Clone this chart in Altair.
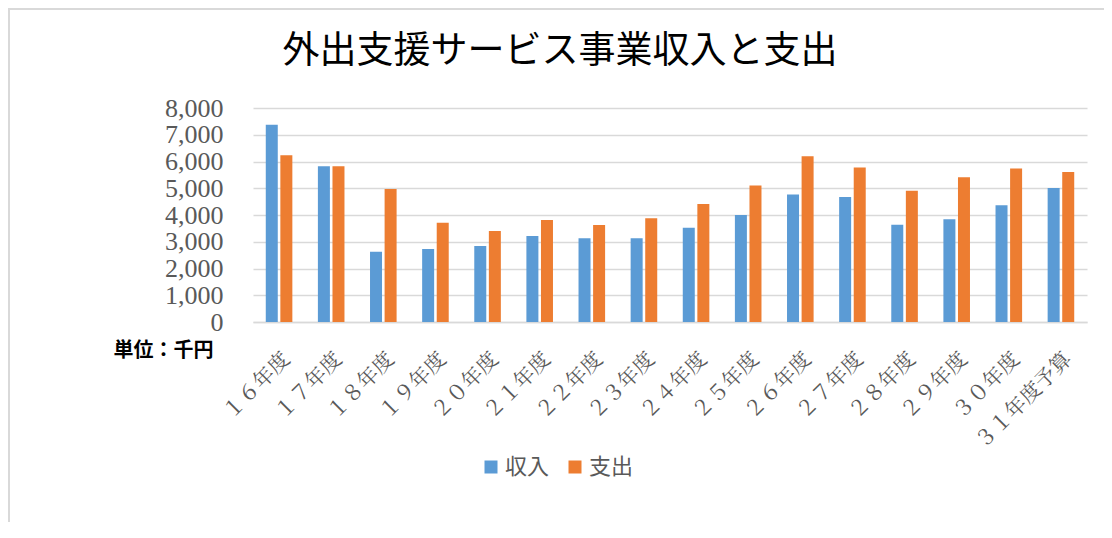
import altair as alt
import pandas as pd

categories = ["１６年度", "１７年度", "１８年度", "１９年度", "２０年度", "２１年度",
              "２２年度", "２３年度", "２４年度", "２５年度", "２６年度", "２７年度",
              "２８年度", "２９年度", "３０年度", "３１年度予算"]
income = [7370, 5820, 2630, 2730, 2845, 3215, 3130, 3130, 3525, 4000, 4770, 4670,
          3640, 3840, 4360, 5005]
expense = [6230, 5820, 4970, 3710, 3400, 3815, 3630, 3875, 4410, 5105, 6200, 5780,
           4905, 5415, 5740, 5605]
series = ["収入", "支出"]
y_ticks = [0, 1000, 2000, 3000, 4000, 5000, 6000, 7000, 8000]

rows = []
for c, a, b in zip(categories, income, expense):
    rows.append({"year": c, "series": series[0], "value": a})
    rows.append({"year": c, "series": series[1], "value": b})
df = pd.DataFrame(rows)

SERIF = "Liberation Serif, Noto Serif CJK JP, Noto Sans CJK JP"
GREY = "#595959"
GRID = "#d9d9d9"

bars = alt.Chart(df).mark_bar().encode(
    x=alt.X("year:N", sort=categories,
            scale=alt.Scale(paddingInner=0.49, paddingOuter=0.245),
            axis=alt.Axis(title=None, labelAngle=-45, labelAlign="right",
                          labelBaseline="top", labelFont=SERIF,
                          labelFontSize=21, labelColor=GREY, labelPadding=26,
                          ticks=False, domainColor=GRID, domainWidth=1.5,
                          labelOverlap=False)),
    xOffset=alt.XOffset("series:N", sort=series,
                        scale=alt.Scale(paddingInner=0.177, paddingOuter=0)),
    y=alt.Y("value:Q", scale=alt.Scale(domain=[0, 8000], nice=False),
            axis=alt.Axis(values=y_ticks, format=",d", title="単位：千円",
                          titleAngle=0, titleX=-140, titleY=242,
                          titleAlign="left", titleBaseline="middle",
                          titleFont="Noto Sans CJK JP", titleFontSize=20,
                          titleFontWeight="bold", titleColor="#000000",
                          labelFont=SERIF, labelFontSize=26, labelColor=GREY,
                          labelPadding=30, ticks=False, domain=False,
                          gridColor=GRID, gridWidth=1.5)),
    color=alt.Color("series:N", sort=series,
                    scale=alt.Scale(domain=series, range=["#5B9BD5", "#ED7D31"]),
                    legend=alt.Legend(title=None, orient="none", direction="horizontal",
                                      legendX=227, legendY=348,
                                      symbolType="square", symbolSize=169,
                                      symbolStrokeWidth=0, symbolOpacity=1,
                                      labelFont="Noto Sans CJK JP", labelFontSize=22,
                                      labelColor=GREY, labelOffset=3,
                                      columnPadding=14)),
)

frame = alt.Chart(pd.DataFrame({"k": [0]})).mark_rect(
    fill=None, stroke=GRID, strokeWidth=2
).encode(
    x=alt.value(-244), x2=alt.value(2000),
    y=alt.value(-99), y2=alt.value(2000),
)

chart = alt.layer(frame, bars).properties(
    width=834, height=214,
    autosize=alt.AutoSizeParams(type="none"),
    padding={"left": 245, "top": 100, "right": 17, "bottom": 200},
    title=alt.TitleParams("外出支援サービス事業収入と支出", anchor="middle",
                          frame="group", dx=-110, offset=-63,
                          font="Noto Sans CJK JP", fontSize=37,
                          fontWeight="normal", color="#000000"),
).configure_view(stroke=None)

chart.save("out.html", embed_options={"renderer": "svg", "actions": False})
